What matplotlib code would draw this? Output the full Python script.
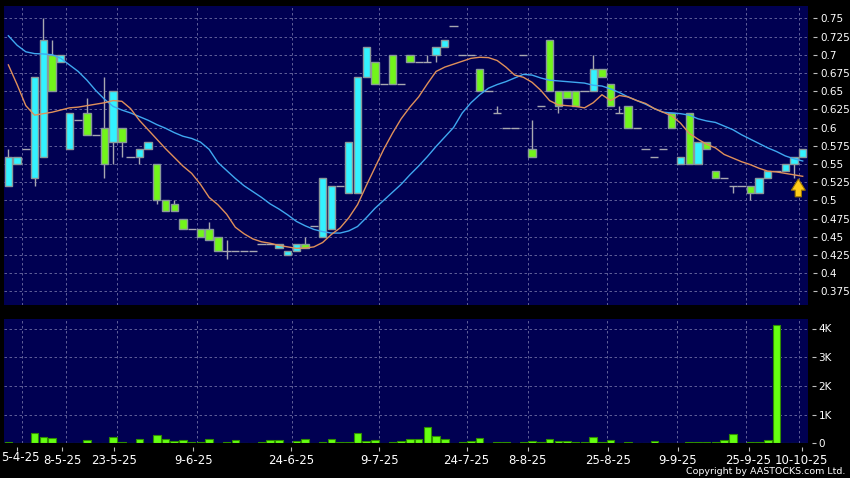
import matplotlib
matplotlib.use('Agg')
import matplotlib.pyplot as plt
import numpy as np

# ---- data (one entry per traded day) ----
opens = [0.52, 0.55, 0.57, 0.53, 0.56, 0.70, 0.69, 0.57, 0.61, 0.62,
         0.59, 0.60, 0.58, 0.60, 0.56, 0.56, 0.57, 0.55, 0.50, 0.495,
         0.475, 0.46, 0.46, 0.46, 0.45, 0.43, 0.43, 0.43, 0.43, 0.44,
         0.44, 0.435, 0.425, 0.43, 0.44, 0.465, 0.45, 0.46, 0.52, 0.51,
         0.51, 0.67, 0.69, 0.66, 0.70, 0.66, 0.70, 0.69, 0.69, 0.70,
         0.71, 0.74, 0.70, 0.70, 0.68, 0.65, 0.62, 0.60, 0.60, 0.70,
         0.57, 0.63, 0.72, 0.65, 0.65, 0.65, 0.65, 0.65, 0.68, 0.66,
         0.62, 0.63, 0.60, 0.57, 0.56, 0.57, 0.62, 0.55, 0.62, 0.55,
         0.58, 0.54, 0.53, 0.52, 0.52, 0.52, 0.51, 0.53, 0.54, 0.54,
         0.55, 0.56]
highs = [0.57, 0.56, 0.57, 0.67, 0.75, 0.72, 0.70, 0.62, 0.61, 0.64,
         0.59, 0.67, 0.65, 0.60, 0.56, 0.57, 0.58, 0.55, 0.50, 0.50,
         0.475, 0.46, 0.46, 0.47, 0.45, 0.445, 0.43, 0.43, 0.43, 0.44,
         0.44, 0.44, 0.43, 0.44, 0.45, 0.465, 0.53, 0.52, 0.52, 0.58,
         0.67, 0.71, 0.69, 0.66, 0.70, 0.66, 0.70, 0.69, 0.70, 0.71,
         0.72, 0.74, 0.70, 0.70, 0.68, 0.65, 0.63, 0.60, 0.60, 0.70,
         0.61, 0.63, 0.72, 0.65, 0.65, 0.65, 0.65, 0.70, 0.68, 0.66,
         0.63, 0.63, 0.60, 0.57, 0.56, 0.57, 0.62, 0.56, 0.62, 0.58,
         0.58, 0.54, 0.53, 0.52, 0.52, 0.52, 0.53, 0.54, 0.54, 0.55,
         0.56, 0.57]
lows = [0.52, 0.55, 0.57, 0.52, 0.56, 0.65, 0.69, 0.57, 0.61, 0.59,
        0.59, 0.53, 0.55, 0.56, 0.56, 0.55, 0.57, 0.495, 0.485, 0.485,
        0.46, 0.46, 0.45, 0.445, 0.43, 0.42, 0.43, 0.43, 0.43, 0.44,
        0.44, 0.435, 0.425, 0.43, 0.435, 0.465, 0.45, 0.46, 0.52, 0.51,
        0.51, 0.67, 0.66, 0.66, 0.66, 0.66, 0.69, 0.69, 0.69, 0.69,
        0.71, 0.74, 0.70, 0.70, 0.65, 0.65, 0.62, 0.60, 0.60, 0.70,
        0.56, 0.63, 0.65, 0.62, 0.64, 0.63, 0.65, 0.65, 0.67, 0.63,
        0.62, 0.60, 0.60, 0.57, 0.56, 0.57, 0.60, 0.55, 0.55, 0.55,
        0.57, 0.53, 0.53, 0.51, 0.52, 0.50, 0.51, 0.53, 0.54, 0.54,
        0.53, 0.56]
closes = [0.56, 0.56, 0.57, 0.67, 0.72, 0.65, 0.70, 0.62, 0.61, 0.59,
          0.59, 0.55, 0.65, 0.58, 0.56, 0.57, 0.58, 0.50, 0.485, 0.485,
          0.46, 0.46, 0.45, 0.445, 0.43, 0.43, 0.43, 0.43, 0.43, 0.44,
          0.44, 0.44, 0.43, 0.44, 0.435, 0.465, 0.53, 0.52, 0.52, 0.58,
          0.67, 0.71, 0.66, 0.66, 0.66, 0.66, 0.69, 0.69, 0.69, 0.71,
          0.72, 0.74, 0.70, 0.70, 0.65, 0.65, 0.62, 0.60, 0.60, 0.70,
          0.56, 0.63, 0.65, 0.63, 0.64, 0.63, 0.65, 0.68, 0.67, 0.63,
          0.62, 0.60, 0.60, 0.57, 0.56, 0.57, 0.60, 0.56, 0.55, 0.58,
          0.57, 0.53, 0.53, 0.52, 0.52, 0.51, 0.53, 0.54, 0.54, 0.55,
          0.56, 0.57]
volumes = [30, 10, 10, 350, 210, 175, 20, 20, 10, 115,
           10, 25, 230, 35, 10, 140, 15, 280, 140, 95,
           115, 35, 55, 165, 10, 35, 105, 20, 10, 35,
           105, 105, 15, 80, 150, 10, 35, 150, 35, 35,
           350, 95, 105, 10, 35, 95, 140, 150, 560, 270,
           140, 20, 55, 95, 200, 15, 35, 35, 10, 35,
           95, 35, 150, 80, 80, 55, 35, 210, 35, 105,
           15, 35, 25, 10, 70, 10, 10, 25, 55, 35,
           35, 35, 115, 340, 15, 35, 35, 115, 4130, 25,
           25, 10]
ma_short = [0.686, 0.659, 0.630, 0.617, 0.619, 0.621, 0.624, 0.627, 0.628, 0.630,
            0.632, 0.634, 0.637, 0.636, 0.626, 0.610, 0.597, 0.584, 0.571, 0.559,
            0.547, 0.537, 0.522, 0.504, 0.494, 0.481, 0.463, 0.454, 0.447, 0.443,
            0.441, 0.438, 0.436, 0.434, 0.4345, 0.436, 0.442, 0.453, 0.462, 0.476,
            0.494, 0.520, 0.545, 0.570, 0.592, 0.612, 0.628, 0.642, 0.660, 0.677,
            0.683, 0.687, 0.691, 0.695, 0.6965, 0.696, 0.692, 0.683, 0.672, 0.669,
            0.662, 0.651, 0.637, 0.631, 0.630, 0.629, 0.627, 0.634, 0.645, 0.637,
            0.644, 0.642, 0.637, 0.633, 0.626, 0.621, 0.616, 0.606, 0.592, 0.584,
            0.577, 0.572, 0.563, 0.558, 0.553, 0.549, 0.544, 0.540, 0.539, 0.537,
            0.535, 0.533]
ma_long = [0.726, 0.713, 0.704, 0.7015, 0.701, 0.700, 0.695, 0.686, 0.677, 0.665,
           0.651, 0.639, 0.629, 0.624, 0.620, 0.615, 0.610, 0.604, 0.599, 0.593,
           0.588, 0.585, 0.580, 0.570, 0.552, 0.541, 0.530, 0.520, 0.512, 0.504,
           0.495, 0.488, 0.480, 0.471, 0.465, 0.460, 0.457, 0.455, 0.455, 0.458,
           0.464, 0.476, 0.489, 0.500, 0.511, 0.522, 0.535, 0.547, 0.560, 0.574,
           0.587, 0.600, 0.620, 0.634, 0.645, 0.654, 0.659, 0.663, 0.668, 0.673,
           0.672, 0.668, 0.665, 0.664, 0.663, 0.662, 0.661, 0.658, 0.657, 0.653,
           0.648, 0.642, 0.637, 0.632, 0.626, 0.621, 0.620, 0.619, 0.617, 0.612,
           0.609, 0.607, 0.602, 0.597, 0.590, 0.584, 0.578, 0.572, 0.567, 0.561,
           0.557, 0.554]
first_date_label = "5-4-25"
date_labels = ["8-5-25", "23-5-25", "9-6-25", "24-6-25", "9-7-25",
               "24-7-25", "8-8-25", "25-8-25", "9-9-25", "25-9-25", "10-10-25"]
date_label_pos = [6.15, 12.1, 21.2, 32.4, 42.5, 52.5, 59.5, 68.7, 76.7, 84.8, 90.9]
first_tick_pos = 1.0
date_grid_pos = [1.6, 6.6, 12.45, 21.6, 32.5, 42.5, 52.5, 59.5, 68.6, 76.6, 84.5, 90.6]
price_ticks = [0.375, 0.4, 0.425, 0.45, 0.475, 0.5, 0.525, 0.55, 0.575, 0.6,
               0.625, 0.65, 0.675, 0.7, 0.725, 0.75]
vol_ticks = [0, 1000, 2000, 3000, 4000]
vol_tick_labels = ["0", "1K", "2K", "3K", "4K"]

# ---- style ----
BG = '#000052'
GRID = '#6e6ea4'
UP = '#33f2ff'
DOWN = '#72f51a'
EDGE = '#8a9a9a'
WICK = '#a8a8b0'
TXT = '#ffffff'

W, H = 850, 478
fig = plt.figure(figsize=(W / 100, H / 100), dpi=100, facecolor='black')
ax = fig.add_axes([4 / W, 1 - 305 / H, (807.5 - 4) / W, (305 - 6) / H], facecolor=BG)
axv = fig.add_axes([4 / W, 1 - 443.3 / H, (807.5 - 4) / W, (443.3 - 319) / H], facecolor=BG)

o = np.array(opens); hi = np.array(highs); lo = np.array(lows); c = np.array(closes)
x = np.arange(len(o))
up = c > o
dn = c < o
flat = c == o

# grids
for a in (ax, axv):
    for gx in date_grid_pos:
        a.axvline(gx, color=GRID, lw=0.6, ls=(0, (3, 3)), zorder=0.5)
for yv in price_ticks:
    ax.axhline(yv, color=GRID, lw=0.6, ls=(0, (3, 3)), zorder=0.5)
for yv in vol_ticks[1:]:
    axv.axhline(yv, color=GRID, lw=0.6, ls=(0, (3, 3)), zorder=0.5)

# candles
ax.vlines(x, lo, hi, color=WICK, lw=1, zorder=2)
ax.bar(x[up], (c - o)[up], bottom=o[up], width=0.84, color=UP, edgecolor=EDGE, lw=1, zorder=3)
ax.bar(x[dn], (o - c)[dn], bottom=c[dn], width=0.84, color=DOWN, edgecolor=EDGE, lw=1, zorder=3)
ax.hlines(c[flat], x[flat] - 0.47, x[flat] + 0.47, color=WICK, lw=1, zorder=3)

# moving averages
ax.plot(x, ma_long, color='#3fa8f0', lw=1, zorder=4)
ax.plot(x, ma_short, color='#e0905a', lw=1, zorder=4)

# arrow marker
ax.annotate('', xy=(90.5, 0.533), xytext=(90.5, 0.501),
            arrowprops=dict(arrowstyle='simple,head_length=0.8,head_width=1.0,tail_width=0.45',
                            fc='#ffcc1a', ec='#a07800', lw=0.8), zorder=5)

ax.set_xlim(-0.5, 91.55)
ax.set_ylim(0.75 - (305 - 18.3) / 728, 0.75 + (18.3 - 6) / 728)
ax.yaxis.tick_right()
ax.set_yticks(price_ticks)
ax.set_yticklabels(['%g' % v for v in price_ticks])
ax.set_xticks([])
ax.spines['right'].set_position(('outward', 4))
for s in ax.spines.values():
    s.set_visible(False)
ax.tick_params(axis='y', colors='#c0c0c0', labelcolor=TXT, length=3, width=0.8, pad=2, labelsize=7.5)

# volume
axv.bar(x, volumes, width=0.86, color='#66ff11', edgecolor='#2f8f00', lw=0.8, zorder=3)
axv.set_xlim(-0.5, 91.55)
axv.set_ylim(0, (443.3 - 319) / 28.7 * 1000)
axv.yaxis.tick_right()
axv.set_yticks(vol_ticks)
axv.set_yticklabels(vol_tick_labels)
axv.set_xticks([first_tick_pos] + date_label_pos)
axv.set_xticklabels([''] + date_labels)
axv.spines['right'].set_position(('outward', 3))
axv.spines['bottom'].set_position(('outward', 3))
for s in axv.spines.values():
    s.set_visible(False)
axv.tick_params(axis='y', colors='#c0c0c0', labelcolor=TXT, length=3, width=0.8, pad=2, labelsize=7.5)
axv.tick_params(axis='x', colors='#c0c0c0', labelcolor=TXT, length=3, width=0.8, pad=1.5, labelsize=8.5)

# first (partly hidden) date label, kept fully inside the figure
fig.text(1.5 / W, 1 - 451.4 / H, first_date_label, color=TXT, fontsize=8.5, ha='left', va='top')

fig.text(845 / W, 1 - 471 / H, 'Copyright by AASTOCKS.com Ltd.', color=TXT, fontsize=6.8,
         ha='right', va='center')

fig.savefig('out.png', dpi=100, facecolor='black')
